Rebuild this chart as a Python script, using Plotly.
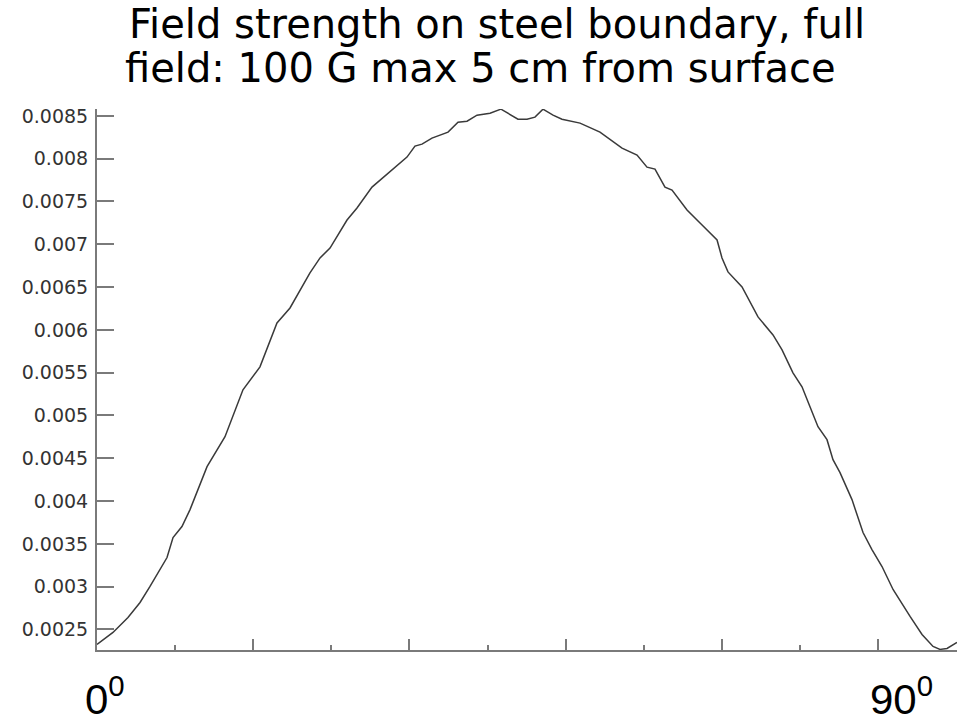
import plotly.graph_objects as go

# Angle along the steel boundary (degrees) and field strength
angle_deg = [
    0.0, 1.84, 3.57, 4.96, 6.11, 7.26, 8.07, 8.76, 9.79, 10.72,
    12.68, 14.75, 16.82, 18.78, 20.74, 22.24, 24.54, 25.70, 26.85, 28.81,
    29.96, 31.69, 33.76, 35.72, 36.64, 37.45, 38.60, 40.45, 41.60, 42.64,
    43.79, 45.29, 46.55, 47.36, 48.51, 49.55, 50.47, 51.39, 52.55, 53.58,
    55.66, 57.96, 60.50, 62.23, 63.38, 64.30, 65.45, 66.26, 67.99, 69.49,
    70.64, 71.45, 72.02, 72.71, 74.33, 76.17, 77.90, 78.94, 80.20, 81.24,
    82.16, 83.08, 84.12, 84.81, 85.62, 87.00, 88.27, 89.30, 90.46, 91.73,
    93.69, 95.07, 96.34, 97.14, 97.95, 99.10,
]
field_strength = [
    0.002325, 0.002465, 0.002640, 0.002815, 0.003002, 0.003200, 0.003340, 0.003573, 0.003702, 0.003900,
    0.004402, 0.004752, 0.005300, 0.005568, 0.006081, 0.006256, 0.006665, 0.006840, 0.006956, 0.007283,
    0.007423, 0.007668, 0.007843, 0.008018, 0.008146, 0.008170, 0.008240, 0.008310, 0.008426, 0.008438,
    0.008508, 0.008531, 0.008578, 0.008531, 0.008461, 0.008461, 0.008485, 0.008578, 0.008508, 0.008461,
    0.008415, 0.008310, 0.008123, 0.008041, 0.007901, 0.007878, 0.007668, 0.007633, 0.007400, 0.007248,
    0.007131, 0.007050, 0.006840, 0.006677, 0.006501, 0.006151, 0.005941, 0.005766, 0.005498, 0.005335,
    0.005102, 0.004868, 0.004717, 0.004483, 0.004332, 0.004017, 0.003632, 0.003433, 0.003235, 0.002967,
    0.002652, 0.002442, 0.002302, 0.002267, 0.002278, 0.002348,
]

y_tickvals = [0.0025, 0.003, 0.0035, 0.004, 0.0045, 0.005, 0.0055,
              0.006, 0.0065, 0.007, 0.0075, 0.008, 0.0085]
y_ticktext = ["0.0025", "0.003", "0.0035", "0.004", "0.0045", "0.005", "0.0055",
              "0.006", "0.0065", "0.007", "0.0075", "0.008", "0.0085"]

title_lines = ["Field strength on steel boundary, full",
               "field: 100 G max 5 cm from surface"]
x_end_labels = [(0, "0<sup>0</sup>"), (90, "90<sup>0</sup>")]

AXIS_GREY = "#7a7a7a"

fig = go.Figure()
fig.add_trace(go.Scatter(
    x=angle_deg, y=field_strength, mode="lines",
    line=dict(color="#3a3a3a", width=1.5),
    showlegend=False, hoverinfo="skip",
))

fig.update_layout(
    width=969, height=723,
    margin=dict(l=97, r=12, t=109, b=73),
    paper_bgcolor="white", plot_bgcolor="white",
    showlegend=False,
)

fig.update_xaxes(
    range=[0, 99.1], showgrid=False, zeroline=False,
    showline=True, linecolor=AXIS_GREY, linewidth=2,
    ticks="inside", tick0=0, dtick=18, ticklen=11, tickwidth=1.5,
    tickcolor=AXIS_GREY, showticklabels=False,
    minor=dict(ticks="inside", tick0=0, dtick=9, ticklen=5,
               tickwidth=1.5, tickcolor=AXIS_GREY, showgrid=False),
)
fig.update_yaxes(
    range=[0.00226, 0.00858], showgrid=False, zeroline=False,
    showline=True, linecolor=AXIS_GREY, linewidth=2,
    ticks="inside", ticklen=17, tickwidth=2, tickcolor=AXIS_GREY,
    tickvals=y_tickvals, ticktext=y_ticktext,
    tickfont=dict(family="DejaVu Sans", size=19, color="#333333"),
    ticklabelstandoff=3,
)

# Two-line heading at the top of the chart
for i, line in enumerate(title_lines):
    fig.add_annotation(
        text=line, xref="paper", yref="paper",
        x=0, y=1, xanchor="left", yanchor="bottom",
        xshift=30 if i == 0 else 26, yshift=60 - 44 * i,
        showarrow=False,
        font=dict(family="DejaVu Sans", size=40, color="black"),
    )

# Angle labels at both ends of the horizontal axis
for xv, label in x_end_labels:
    fig.add_annotation(
        text=label, xref="x", yref="paper",
        x=xv, y=0, xanchor="left", yanchor="top",
        xshift=-14 if xv == 0 else -10, yshift=-17,
        showarrow=False,
        font=dict(family="Liberation Sans", size=42, color="black"),
    )

fig.write_html("out.html")
